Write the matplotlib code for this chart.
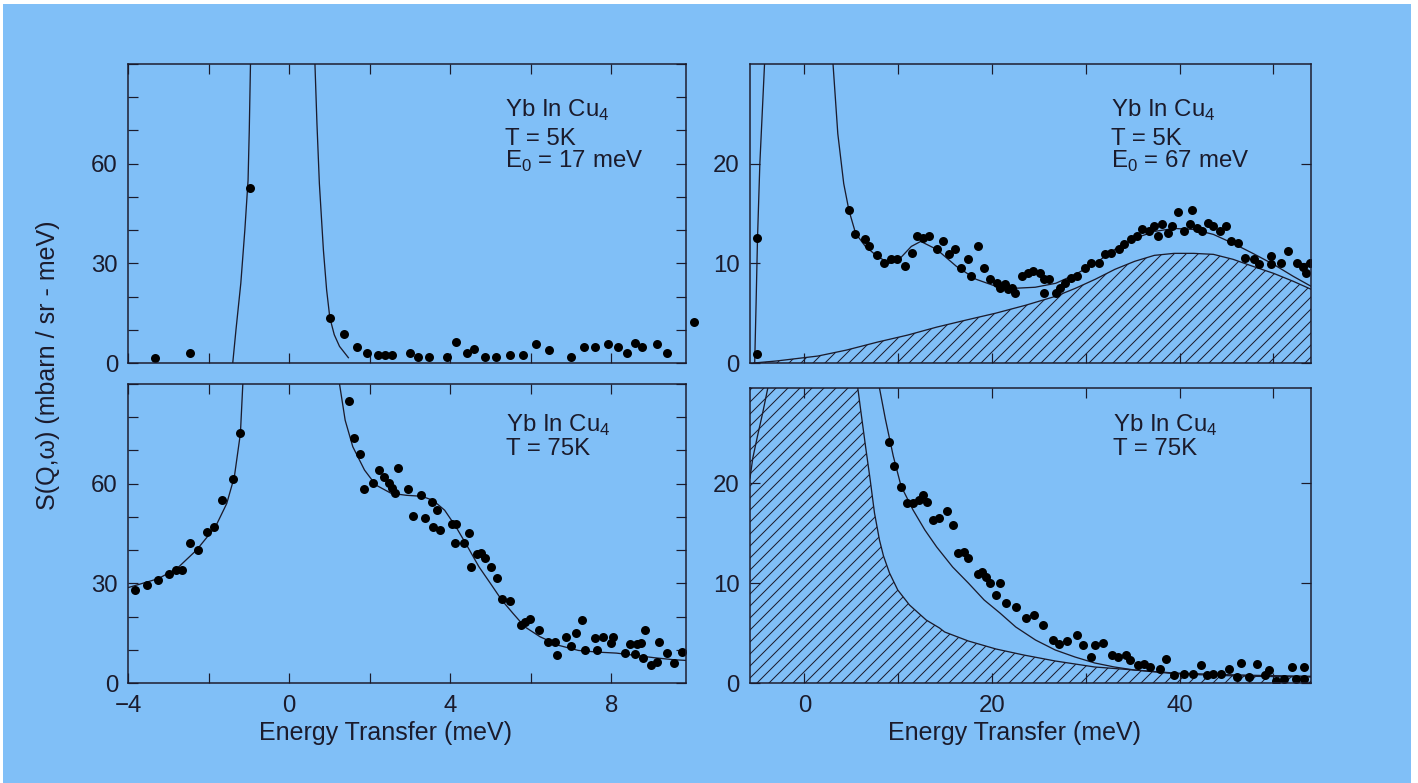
import matplotlib
matplotlib.use("Agg")
import matplotlib.pyplot as plt
from matplotlib.patches import Rectangle

# ── Data ──────────────────────────────────────────────────────────────────────

# top-left: T = 5K, E0 = 17 meV
tl_x = [-3.32, -2.45, -0.98, 1.01, 1.35, 1.68, 1.94, 2.20, 2.39, 2.55, 3.00, 3.21,
        3.46, 3.91, 4.14, 4.41, 4.60, 4.85, 5.14, 5.47, 5.80, 6.13, 6.46, 7.00,
        7.32, 7.60, 7.91, 8.17, 8.39, 8.58, 8.77, 9.12, 9.37]
tl_y = [1.5, 3.1, 52.7, 13.6, 8.7, 4.9, 3.1, 2.4, 2.4, 2.4, 3.1, 1.7,
        1.7, 1.7, 6.4, 3.1, 4.2, 1.7, 1.7, 2.4, 2.4, 5.6, 3.9, 1.7,
        4.9, 4.9, 5.6, 4.9, 3.1, 6.0, 4.9, 5.6, 3.1]
tl_out_x = [10.05]          # the one point drawn past the right frame
tl_out_y = [12.4]
tl_fit_l_x = [-1.40, -1.32, -1.20, -1.10, -1.02, -0.99, -0.96]
tl_fit_l_y = [0, 10, 24, 40, 55, 70, 90]
tl_fit_r_x = [0.64, 0.69, 0.75, 0.85, 0.93, 1.01, 1.12, 1.25, 1.47]
tl_fit_r_y = [90, 72, 54, 34, 22, 13.6, 8.5, 5.0, 1.6]

# top-right: T = 5K, E0 = 67 meV
tr_x = [-5.08, -5.08, 4.75, 5.38, 6.43, 6.93, 7.78, 8.53, 9.25, 9.89, 10.73, 11.49,
        11.99, 12.63, 13.26, 14.10, 14.74, 15.37, 16.00, 16.64, 17.49, 17.81, 18.54,
        19.17, 19.80, 20.5, 20.9, 21.4, 21.7, 22.1, 22.5, 23.2, 23.8, 24.4, 25.1,
        25.5, 26.1, 25.5, 26.8, 27.2, 27.8, 28.4, 29.1, 29.9, 30.6, 31.4, 32.0,
        32.7, 33.5, 34.1, 34.8, 35.4, 36.0, 36.7, 37.3, 37.7, 38.1, 38.8, 39.2,
        39.8, 40.5, 41.1, 41.3, 41.9, 42.4, 43.0, 43.6, 44.3, 44.9, 45.5, 46.2,
        47.0, 47.9, 48.5, 49.7, 49.7, 50.8, 51.6, 52.5, 53.1, 53.5, 53.9]
tr_y = [12.5, 0.9, 15.4, 12.9, 12.4, 11.7, 10.8, 10.0, 10.4, 10.4, 9.7, 11.0,
        12.7, 12.5, 12.7, 11.4, 12.2, 10.9, 11.4, 9.5, 10.4, 8.7, 11.7,
        9.5, 8.4, 8.0, 7.5, 7.9, 7.4, 7.5, 7.0, 8.7, 9.0, 9.2, 9.0,
        8.4, 8.4, 7.0, 7.0, 7.5, 8.0, 8.5, 8.7, 9.5, 10.0, 10.0, 10.9,
        11.0, 11.4, 11.9, 12.4, 12.7, 13.4, 13.2, 13.7, 12.7, 13.9, 13.0, 13.7,
        15.2, 13.2, 13.9, 15.4, 13.5, 13.2, 14.0, 13.7, 13.2, 13.7, 12.2, 12.0,
        10.5, 10.4, 9.9, 10.7, 9.9, 10.0, 11.2, 10.0, 9.6, 9.0, 10.0]
tr_fit_l_x = [-5.30, -5.15, -5.00, -4.75, -4.50, -4.25]
tr_fit_l_y = [0, 6, 12.5, 20, 25, 30]
tr_fit_r_x = [3.05, 3.56, 4.19, 4.75, 5.46, 6.50, 7.77, 9.05, 10.3, 11.4, 12.4, 14.1,
              16.2, 18.3, 20.4, 22.5, 24.6, 26.8, 28.9, 31.0, 33.1, 35.2, 37.3,
              39.4, 41.5, 43.6, 45.7, 47.8, 50.0, 52.1, 54.0]
tr_fit_r_y = [30, 23, 18, 15.3, 13.0, 11.7, 10.7, 10.0, 10.6, 11.7, 12.2, 11.4,
              9.7, 8.4, 7.7, 7.5, 7.6, 8.0, 8.9, 10.0, 11.4, 12.5, 13.2,
              13.5, 13.4, 12.9, 12.0, 11.0, 9.9, 8.7, 7.7]
tr_mag_x = [-5.4, -3.0, 1.45, 4.5, 7.8, 11.0, 14.1, 17.2, 20.4, 23.6, 26.8, 28.9, 31.0,
            33.1, 35.2, 37.3, 39.4, 41.5, 43.6, 45.7, 47.8, 50.0, 52.1, 54.0]
tr_mag_y = [0, 0.2, 0.7, 1.3, 2.1, 2.8, 3.6, 4.3, 5.0, 5.8, 6.7, 7.5, 8.4,
            9.4, 10.2, 10.8, 11.0, 11.0, 10.9, 10.4, 9.7, 9.0, 8.2, 7.4]

# bottom-left: T = 75K
bl_x = [-3.82, -3.54, -3.25, -2.99, -2.82, -2.66, -2.45, -2.26, -2.04, -1.86, -1.66,
        -1.40, -1.21, 1.49, 1.60, 1.75, 1.87, 2.09, 2.23, 2.36, 2.48, 2.55, 2.63,
        2.70, 2.94, 3.08, 3.27, 3.36, 3.55, 3.57, 3.67, 3.74, 4.03, 4.14, 4.12,
        4.33, 4.47, 4.52, 4.66, 4.76, 4.85, 5.00, 5.16, 5.28, 5.47, 5.75, 5.85,
        5.99, 6.21, 6.42, 6.59, 6.66, 6.87, 7.00, 7.13, 7.27, 7.35, 7.65, 7.60,
        7.79, 8.03, 7.98, 8.33, 8.45, 8.64, 8.74, 8.58, 8.83, 8.79, 8.98, 9.12,
        9.17, 9.37, 9.55, 9.76]
bl_y = [27.9, 29.4, 31.1, 32.7, 33.9, 34.1, 42.2, 40.0, 45.5, 47.0, 55.2,
        61.3, 75.3, 85.0, 73.8, 68.9, 58.3, 60.1, 64.1, 61.9, 60.1, 58.6, 57.3,
        64.6, 58.3, 50.2, 56.5, 49.7, 54.5, 47.0, 52.0, 46.0, 47.8, 47.8, 42.0,
        42.0, 45.2, 35.0, 38.7, 39.0, 37.5, 35.0, 31.7, 25.4, 24.7, 17.4, 18.4,
        19.4, 15.9, 12.4, 12.4, 8.3, 13.7, 11.0, 14.9, 18.9, 9.8, 9.8, 13.4,
        13.9, 13.9, 11.9, 9.0, 11.7, 11.7, 11.9, 8.8, 15.9, 7.6, 5.3, 6.3,
        12.4, 9.0, 6.0, 9.3]
bl_fit_l_x = [-4.0, -3.25, -2.78, -2.30, -1.83, -1.55, -1.36, -1.21, -1.15]
bl_fit_l_y = [28.7, 31.4, 34.5, 40.0, 47.0, 54.0, 62.1, 75.1, 90]
bl_fit_r_x = [1.25, 1.39, 1.58, 1.87, 2.15, 2.53, 2.91, 3.29, 3.57, 3.86, 4.14, 4.43,
              4.71, 5.00, 5.28, 5.56, 5.85, 6.23, 6.70, 7.18, 7.65, 8.12, 8.60,
              9.07, 9.55, 9.85]
bl_fit_r_y = [90, 79.1, 71.1, 64.1, 59.6, 57.1, 56.5, 56.2, 55.0, 52.0, 47.0, 41.0,
              35.0, 29.9, 24.9, 20.9, 16.9, 13.9, 11.3, 9.8, 9.3, 9.0, 8.3,
              7.6, 7.0, 6.8]

# bottom-right: T = 75K
br_x = [9.05, 9.60, 10.32, 10.95, 11.58, 12.21, 12.63, 13.05, 13.68, 14.32, 15.16,
        15.79, 16.42, 17.05, 17.47, 18.53, 18.95, 19.37, 19.79, 20.42, 20.84, 21.47,
        22.53, 23.58, 24.42, 25.47, 26.53, 27.16, 28.00, 29.05, 29.68, 30.53, 30.95,
        31.79, 32.84, 33.47, 34.32, 34.74, 35.58, 36.21, 36.84, 37.89, 38.53, 39.37,
        40.42, 41.47, 42.32, 42.95, 43.58, 44.42, 45.26, 46.10, 46.53, 47.37, 48.21,
        49.05, 49.47, 50.32, 51.16, 52.00, 52.42, 53.26, 53.26]
br_y = [24.1, 21.7, 19.6, 18.0, 18.0, 18.3, 18.8, 18.1, 16.3, 16.5, 17.2,
        15.8, 13.0, 13.1, 12.5, 10.9, 11.1, 10.6, 10.0, 8.8, 10.0, 8.0,
        7.6, 6.5, 6.8, 5.8, 4.3, 3.9, 4.2, 4.8, 3.8, 2.6, 3.8,
        4.0, 2.8, 2.6, 2.8, 2.3, 1.8, 1.9, 1.6, 1.4, 2.4, 0.77,
        0.94, 0.87, 1.77, 0.77, 0.94, 0.87, 1.44, 0.6, 2.0, 0.6, 1.94,
        0.77, 1.27, 0.2, 0.44, 1.6, 0.44, 1.6, 0.44]
br_fit_l_x = [-5.8, -5.5, -5.0, -4.45, -3.9]
br_fit_l_y = [20.5, 22.5, 24.7, 27.0, 29.5]
br_fit_r_x = [8.0, 8.63, 9.47, 10.3, 11.58, 12.84, 14.1, 15.8, 17.47, 19.16, 20.84,
              22.53, 24.63, 26.74, 28.84, 30.95, 33.05, 35.16, 39.37, 43.6, 47.8, 54.0]
br_fit_r_y = [29.5, 26.4, 22.7, 19.7, 17.3, 15.3, 13.6, 11.6, 10.0, 8.3, 7.0,
              5.6, 4.3, 3.3, 2.6, 2.0, 1.6, 1.3, 0.94, 0.77, 0.67, 0.6]
br_qe_x = [-5.8, 5.69, 6.04, 6.51, 7.0, 7.47, 8.0, 8.43, 9.07, 9.95, 11.2, 12.98,
           14.4, 14.95, 17.47, 20.42, 23.37, 26.74, 30.95, 35.16, 39.37, 43.6, 47.8, 54.0]
br_qe_y = [29.5, 29.5, 27.0, 23.7, 20.4, 17.0, 14.3, 12.7, 11.0, 9.3, 7.8, 6.3,
           5.5, 5.1, 4.2, 3.4, 2.8, 2.2, 1.6, 1.3, 1.0, 0.87, 0.77, 0.67]

# ── Style ─────────────────────────────────────────────────────────────────────

W, H, DPI = 1418, 783, 72
BG    = "#80bff7"
INK   = "#1b1b2c"
plt.rcParams["font.family"] = ["Liberation Sans", "DejaVu Sans"]
plt.rcParams["mathtext.fontset"] = "custom"
plt.rcParams["mathtext.rm"] = "Liberation Sans"
plt.rcParams["hatch.linewidth"] = 1.0
plt.rcParams["hatch.color"] = INK

fig = plt.figure(figsize=(W / DPI, H / DPI), dpi=DPI, facecolor="white")
fig.patches.append(Rectangle((3 / W, 0), 1408 / W, 779 / H, transform=fig.transFigure,
                             facecolor=BG, edgecolor="none", zorder=-10))


def px_axes(x0, y0, x1, y1):
    return fig.add_axes([x0 / W, 1 - y1 / H, (x1 - x0) / W, (y1 - y0) / H])


def style(ax, xlim, ylim, xticks, xlabels, yticks, ylabels, show_x):
    ax.set_facecolor("none")
    ax.set_xlim(*xlim); ax.set_ylim(*ylim)
    ax.set_xticks(xticks)
    ax.set_xticklabels(xlabels if show_x else [""] * len(xticks))
    ax.set_yticks(yticks)
    ax.set_yticklabels(ylabels)
    ax.tick_params(direction="in", length=10, width=1.2, color=INK,
                   top=True, right=True, labelsize=24, labelcolor=INK)
    ax.tick_params(axis="x", pad=12)
    ax.tick_params(axis="y", pad=10)
    for s in ax.spines.values():
        s.set_linewidth(1.5); s.set_color(INK)


def label_text(x, y, s):
    fig.text(x / W, 1 - y / H, s, fontsize=24, color=INK, ha="left", va="baseline")


LW, MS = 1.3, 9

# ── top-left ──────────────────────────────────────────────────────────────────
ax = px_axes(128, 64, 686, 363)
ax.plot(tl_fit_l_x, tl_fit_l_y, color=INK, lw=LW)
ax.plot(tl_fit_r_x, tl_fit_r_y, color=INK, lw=LW)
ax.plot(tl_x, tl_y, "o", color="black", ms=MS, mec="none")
ax.plot(tl_out_x, tl_out_y, "o", color="black", ms=MS, mec="none", clip_on=False)
style(ax, (-4, 9.85), (0, 90), range(-4, 10, 2),
      ["\u22124", "", "0", "", "4", "", "8"], range(0, 91, 10),
      ["0", "", "", "30", "", "", "60", "", "", ""], False)
label_text(505, 117, r"Yb In Cu$_{\rm 4}$")
label_text(505, 145, "T = 5K")
label_text(505, 168, r"E$_{\rm 0}$ = 17 meV")

# ── top-right ─────────────────────────────────────────────────────────────────
ax = px_axes(750, 64, 1311, 363)
ax.fill_between(tr_mag_x, tr_mag_y, 0, facecolor="none", edgecolor=INK, hatch="//", lw=0)
ax.plot(tr_mag_x, tr_mag_y, color=INK, lw=LW)
ax.plot(tr_fit_l_x, tr_fit_l_y, color=INK, lw=LW)
ax.plot(tr_fit_r_x, tr_fit_r_y, color=INK, lw=LW)
ax.plot(tr_x, tr_y, "o", color="black", ms=MS, mec="none")
style(ax, (-5.8, 54), (0, 30), range(0, 51, 10), ["0", "", "20", "", "40", ""],
      [0, 10, 20], ["0", "10", "20"], False)
label_text(1111, 117, r"Yb In Cu$_{\rm 4}$")
label_text(1111, 145, "T = 5K")
label_text(1111, 168, r"E$_{\rm 0}$ = 67 meV")

# ── bottom-left ───────────────────────────────────────────────────────────────
ax = px_axes(128, 384, 686, 683)
ax.plot(bl_fit_l_x, bl_fit_l_y, color=INK, lw=LW)
ax.plot(bl_fit_r_x, bl_fit_r_y, color=INK, lw=LW)
ax.plot(bl_x, bl_y, "o", color="black", ms=MS, mec="none")
style(ax, (-4, 9.85), (0, 90), range(-4, 10, 2),
      ["\u22124", "", "0", "", "4", "", "8"], range(0, 91, 10),
      ["0", "", "", "30", "", "", "60", "", "", ""], True)
label_text(506, 432, r"Yb In Cu$_{\rm 4}$")
label_text(506, 455, "T = 75K")

# ── bottom-right ──────────────────────────────────────────────────────────────
ax = px_axes(750, 388, 1311, 683)
ax.fill_between(br_qe_x, br_qe_y, 0, facecolor="none", edgecolor=INK, hatch="//", lw=0)
ax.plot(br_qe_x[1:], br_qe_y[1:], color=INK, lw=LW)
ax.plot(br_fit_l_x, br_fit_l_y, color=INK, lw=LW)
ax.plot(br_fit_r_x, br_fit_r_y, color=INK, lw=LW)
ax.plot(br_x, br_y, "o", color="black", ms=MS, mec="none")
style(ax, (-5.8, 54), (0, 29.5), range(0, 51, 10), ["0", "", "20", "", "40", ""],
      [0, 10, 20], ["0", "10", "20"], True)
label_text(1113, 432, r"Yb In Cu$_{\rm 4}$")
label_text(1113, 455, "T = 75K")

# ── shared axis titles ────────────────────────────────────────────────────────
fig.text(385 / W, 1 - 740 / H, "Energy Transfer (meV)", fontsize=25, color=INK,
         ha="center", va="baseline")
fig.text(1015 / W, 1 - 740 / H, "Energy Transfer (meV)", fontsize=25, color=INK,
         ha="center", va="baseline")
fig.text(48 / W, 1 - 365 / H, "S(Q,\u03c9) (mbarn / sr - meV)", fontsize=25, color=INK,
         rotation=90, ha="center", va="center")

fig.savefig("out.png", dpi=DPI, facecolor=fig.get_facecolor())
